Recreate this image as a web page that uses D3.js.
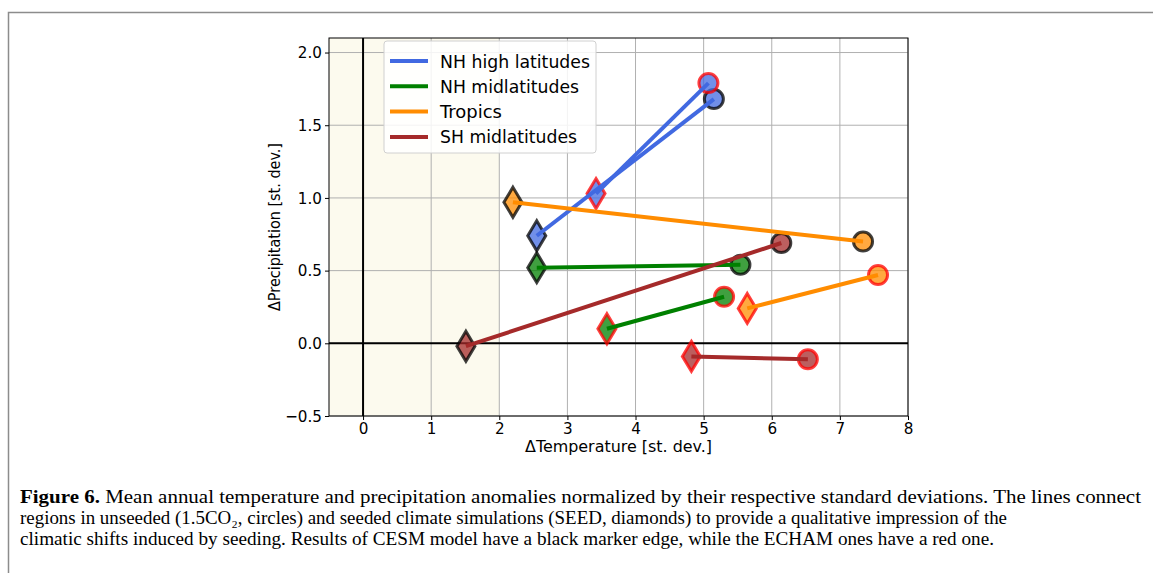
<!DOCTYPE html>
<html><head><meta charset="utf-8">
<script src="https://cdn.jsdelivr.net/npm/d3@7"></script>
<style>body{margin:0;background:#fff}svg{display:block}</style>
</head><body>
<svg id="c" width="1153" height="573"></svg>
<script>
// ---- data ----
const regions = ["NH high latitudes", "NH midlatitudes", "Tropics", "SH midlatitudes"];
const colors = ["#4169e1", "#008000", "#ff8c00", "#a52a2a"];
// CESM (black marker edge): seeded (diamond) and unseeded (circle)
const cesmSeedT   = [2.55, 2.55, 2.20, 1.51];
const cesmSeedP   = [0.74, 0.52, 0.97, -0.02];
const cesmUnseedT = [5.15, 5.54, 7.34, 6.14];
const cesmUnseedP = [1.68, 0.54, 0.70, 0.69];
// ECHAM (red marker edge)
const echamSeedT   = [3.42, 3.58, 5.64, 4.82];
const echamSeedP   = [1.03, 0.10, 0.24, -0.09];
const echamUnseedT = [5.07, 5.30, 7.56, 6.53];
const echamUnseedP = [1.79, 0.32, 0.47, -0.11];
const xTicks = [0, 1, 2, 3, 4, 5, 6, 7, 8];
const yTicks = [-0.5, 0.0, 0.5, 1.0, 1.5, 2.0];
const shadeRange = [-0.5, 2];
const captionBold = "Figure 6.";
const captionLines = [
  " Mean annual temperature and precipitation anomalies normalized by their respective standard deviations. The lines connect",
  "regions in unseeded (1.5CO\u2082, circles) and seeded climate simulations (SEED, diamonds) to provide a qualitative impression of the",
  "climatic shifts induced by seeding. Results of CESM model have a black marker edge, while the ECHAM ones have a red one."
];

// ---- layout ----
const svg = d3.select("#c");
const L = 329, R = 908, T = 38, B = 416;
const x = d3.scaleLinear().domain([-0.5, 8]).range([L, R]);
const y = d3.scaleLinear().domain([-0.5, 2.1]).range([B, T]);
const font = "DejaVu Sans, sans-serif";

function squeeze(sel, k) {
  sel.each(function() {
    const w = this.getComputedTextLength();
    d3.select(this).attr("textLength", w * k).attr("lengthAdjust", "spacingAndGlyphs");
  });
}

// outer frame
svg.append("path").attr("d", "M8.5,573 V12.5 H1153").attr("fill", "none").attr("stroke", "#8c8c8c").attr("stroke-width", 1.5);

// shaded region
svg.append("rect").attr("x", x(shadeRange[0])).attr("y", T).attr("width", x(shadeRange[1]) - x(shadeRange[0])).attr("height", B - T).attr("fill", "#fcfaee");

// grid
const g = svg.append("g");
g.selectAll(".gx").data(xTicks).join("line").attr("x1", d => x(d)).attr("x2", d => x(d)).attr("y1", T).attr("y2", B).attr("stroke", "#b0b0b0").attr("stroke-width", 1);
g.selectAll(".gy").data(yTicks).join("line").attr("y1", d => y(d)).attr("y2", d => y(d)).attr("x1", L).attr("x2", R).attr("stroke", "#b0b0b0").attr("stroke-width", 1);

// zero lines
svg.append("line").attr("x1", x(0)).attr("x2", x(0)).attr("y1", T).attr("y2", B).attr("stroke", "#000").attr("stroke-width", 2);
svg.append("line").attr("x1", L).attr("x2", R).attr("y1", y(0)).attr("y2", y(0)).attr("stroke", "#000").attr("stroke-width", 2);

// axes
const xAxis = svg.append("g").attr("transform", `translate(0,${B})`).call(d3.axisBottom(x).tickValues(xTicks).tickSize(4).tickPadding(2).tickFormat(d3.format("d")));
const yAxis = svg.append("g").attr("transform", `translate(${L},0)`).call(d3.axisLeft(y).tickValues(yTicks).tickSize(4).tickPadding(3).tickFormat(d => d3.format(".1f")(d).replace("-", "\u2212")));
[xAxis, yAxis].forEach(a => {
  a.attr("font-family", font).attr("font-size", 16.5);
  a.select(".domain").remove();
  a.selectAll("text").attr("fill", "#000");
  a.selectAll("line").attr("stroke", "#000");
  squeeze(a.selectAll("text"), 0.92);
});
svg.append("rect").attr("x", L).attr("y", T).attr("width", R - L).attr("height", B - T).attr("fill", "none").attr("stroke", "#000").attr("stroke-width", 1);

// axis labels
svg.append("text").attr("x", 525).attr("y", 452).attr("textLength", 187).attr("lengthAdjust", "spacingAndGlyphs").attr("font-family", font).attr("font-size", 16).text("\u0394Temperature [st. dev.]");
svg.append("text").attr("transform", `translate(280,${(T + B) / 2}) rotate(-90)`).attr("x", -84).attr("textLength", 168).attr("lengthAdjust", "spacingAndGlyphs").attr("font-family", font).attr("font-size", 16).text("\u0394Precipitation [st. dev.]");

// markers
const diamond = "M0,-15 L9,0 L0,15 L-9,0 Z";
function markers(ts, ps, shape, edge) {
  regions.forEach((r, i) => {
    if (shape === "circle") {
      svg.append("circle").attr("cx", x(ts[i])).attr("cy", y(ps[i])).attr("r", 9.5)
        .attr("fill", colors[i]).attr("fill-opacity", 0.75)
        .attr("stroke", edge).attr("stroke-opacity", 0.75).attr("stroke-width", 3);
    } else {
      svg.append("path").attr("d", diamond).attr("transform", `translate(${x(ts[i])},${y(ps[i])})`)
        .attr("fill", colors[i]).attr("fill-opacity", 0.75)
        .attr("stroke", edge).attr("stroke-opacity", 0.75).attr("stroke-width", 3);
    }
  });
}
markers(cesmSeedT, cesmSeedP, "diamond", "#000");
markers(cesmUnseedT, cesmUnseedP, "circle", "#000");
markers(echamSeedT, echamSeedP, "diamond", "#ff0000");
markers(echamUnseedT, echamUnseedP, "circle", "#ff0000");

// connecting lines
const line = d3.line().x(d => x(d[0])).y(d => y(d[1]));
regions.forEach((r, i) => {
  svg.append("path").attr("d", line([[cesmSeedT[i], cesmSeedP[i]], [cesmUnseedT[i], cesmUnseedP[i]]])).attr("stroke", colors[i]).attr("stroke-width", 4).attr("fill", "none");
  svg.append("path").attr("d", line([[echamSeedT[i], echamSeedP[i]], [echamUnseedT[i], echamUnseedP[i]]])).attr("stroke", colors[i]).attr("stroke-width", 4).attr("fill", "none");
});

// legend
const lg = svg.append("g");
lg.append("rect").attr("x", 384).attr("y", 41).attr("width", 212).attr("height", 112).attr("rx", 3)
  .attr("fill", "#fff").attr("fill-opacity", 0.85).attr("stroke", "#d0d0d0").attr("stroke-width", 1);
const legW = [150, 139, 62, 137];
regions.forEach((r, i) => {
  const yy = 61 + i * 25.3;
  lg.append("line").attr("x1", 390).attr("x2", 428).attr("y1", yy).attr("y2", yy).attr("stroke", colors[i]).attr("stroke-width", 4);
  lg.append("text").attr("x", 440).attr("y", yy + 6.5).attr("font-family", font).attr("font-size", 17.5)
    .attr("textLength", legW[i]).attr("lengthAdjust", "spacingAndGlyphs").text(r);
});

// caption
const cap = svg.append("g").attr("font-family", "Liberation Serif, serif").attr("font-size", 18.5);
const capX = 20, capY = [503, 524, 545], capW = [1121, 987, 974];
captionLines.forEach((t, i) => {
  const tx = cap.append("text").attr("x", capX).attr("y", capY[i]).attr("textLength", capW[i]).attr("lengthAdjust", "spacingAndGlyphs");
  if (i === 0) {
    tx.append("tspan").attr("font-weight", "bold").text(captionBold);
  }
  tx.append("tspan").text(t);
});
</script>
</body></html>
